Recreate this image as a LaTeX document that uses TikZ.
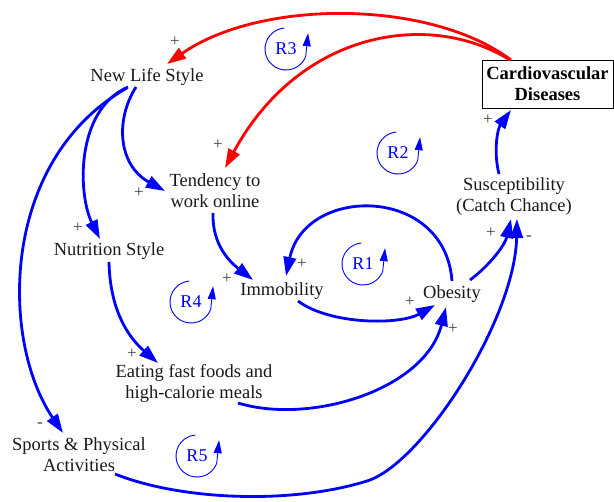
\documentclass[tikz,border=0pt]{standalone}
\usepackage{fontspec}
\setmainfont{Liberation Serif}
\usetikzlibrary{arrows.meta}
\definecolor{linkblue}{RGB}{0,0,255}
\definecolor{linkred}{RGB}{255,0,0}
\definecolor{signgray}{RGB}{64,64,64}
% loop marker: label with an open circular arrow
\newcommand\loopmark[4]{%
  \node[looptext] (#1) at (#2,#3) {#4};
  \draw[loopline] (#1.center) ++(-95:21) arc[start angle=-95, end angle=-340, radius=21] -- ++(2.3,-23);
}
\begin{document}
\begin{tikzpicture}[x=1pt,y=-1pt,
  lbl/.style={font=\fontsize{18.5}{21}\selectfont, align=center, inner sep=0pt, text=black!90},
  cvdbox/.style={draw, line width=0.8pt, align=center, inner sep=0pt,
    font=\fontsize{18.5}{21}\selectfont\bfseries, minimum width=131pt, minimum height=48pt},
  sgn/.style={font=\fontsize{17}{17}\selectfont, inner sep=0pt, text=signgray},
  link/.style={line width=2.8pt, draw=linkblue, -{Triangle[length=19pt,width=12.5pt]}},
  redlink/.style={link, draw=linkred},
  loopline/.style={line width=0.9pt, draw=linkblue, -{Triangle[length=13pt,width=8pt]}},
  looptext/.style={font=\fontsize{18}{18}\selectfont, text=linkblue, inner sep=0pt}]
\useasboundingbox (0,0) rectangle (614,502);

% variables
\node[lbl] (nls) at (147,77) {New Life Style};
\node[cvdbox] (cvd) at (547.5,84) {Cardiovascular\\Diseases};
\node[lbl] (ten) at (215,191) {Tendency to\\work online};
\node[lbl] (nut) at (109,251) {Nutrition Style};
\node[lbl] (imm) at (282,291) {Immobility};
\node[lbl] (obe) at (452,294) {Obesity};
\node[lbl] (sus) at (514,197) {Susceptibility\\(Catch Chance)};
\node[lbl] (eat) at (194,383) {Eating fast foods and\\high-calorie meals};
\node[lbl] (spo) at (79,455) {Sports \& Physical\\Activities};

% causal links
\draw[redlink] ([shift={(-36.5,-24)}]cvd.center) .. controls (430,-1) and (260,-1) .. ([shift={(20,-13)}]nls.center);
\draw[redlink] ([shift={(-37.5,-24)}]cvd.center) .. controls (430,10) and (300,30) .. ([shift={(10,-23)}]ten.center);
\draw[link] ([shift={(-11,10)}]nls.center) .. controls (115,120) and (118,165) .. ([shift={(-50,0)}]ten.center);
\draw[link] ([shift={(-19,10)}]nls.center) .. controls (75,110) and (78,195) .. ([shift={(-9,-12)}]nut.center);
\draw[link] ([shift={(-20,11)}]nls.center) .. controls (0,160) and (0,340) .. ([shift={(-16,-22)}]spo.center);
\draw[link] ([shift={(-2,22)}]ten.center) .. controls (212,245) and (230,262) .. ([shift={(-29,-11)}]imm.center);
\draw[link] ([shift={(0,-13)}]obe.center) .. controls (445,185) and (305,185) .. ([shift={(4,-15)}]imm.center);
\draw[link] ([shift={(16,10)}]imm.center) .. controls (330,325) and (400,325) .. ([shift={(-17,11)}]obe.center);
\draw[link] ([shift={(44,20)}]eat.center) .. controls (310,425) and (425,390) .. ([shift={(-6,13)}]obe.center);
\draw[link] ([shift={(18,-14)}]obe.center) .. controls (490,265) and (505,245) .. ([shift={(-3,22)}]sus.center);
\draw[link] ([shift={(36,19)}]spo.center) .. controls (180,500) and (290,505) .. (367,481)
  .. controls (422,464) and (515,320) .. ([shift={(3,22)}]sus.center);
\draw[link] ([shift={(-15,-23)}]sus.center) .. controls (493,150) and (498,128) .. ([shift={(-36.5,26)}]cvd.center);
\draw[link] ([shift={(0,11)}]nut.center) .. controls (110,310) and (128,337) .. ([shift={(-36,-20)}]eat.center);

% polarities
\node[sgn] (p1) at (175,42) {+};
\node[sgn] (p2) at (218,145) {+};
\node[sgn] (p3) at (139,193) {+};
\node[sgn] (p4) at (78,228) {+};
\node[sgn] (p5) at (227,279) {+};
\node[sgn] (p6) at (302,264) {+};
\node[sgn] (p7) at (132,354) {+};
\node[sgn] (p8) at (40,425) {-};
\node[sgn] (p9) at (410,302) {+};
\node[sgn] (p10) at (453,329) {+};
\node[sgn] (p11) at (491,233) {+};
\node[sgn] (p12) at (529,238) {-};
\node[sgn] (p13) at (488,120) {+};

% loop markers
\loopmark{r3}{286}{49}{R3}
\loopmark{r2}{398}{153}{R2}
\loopmark{r1}{363}{264}{R1}
\loopmark{r4}{191}{302}{R4}
\loopmark{r5}{197}{456}{R5}
\end{tikzpicture}
\end{document}
